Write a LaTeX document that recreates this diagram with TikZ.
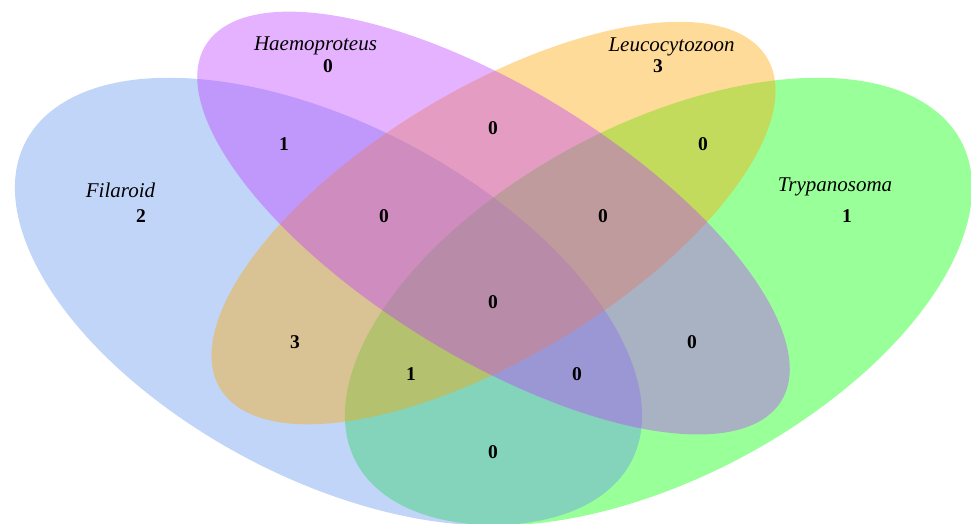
\documentclass[tikz,border=0pt]{standalone}
\usepackage{fontspec}
\setmainfont{Liberation Serif}
\definecolor{filcol}{RGB}{100,149,237}
\definecolor{haecol}{RGB}{191,62,255}
\definecolor{leucol}{RGB}{255,165,0}
\definecolor{trycol}{RGB}{0,255,0}
\tikzset{
  setfill/.style={fill=#1, fill opacity=0.4},
  setname/.style={font=\fontsize{21}{25}\selectfont\itshape, inner sep=0pt, anchor=base},
  count/.style={font=\fontsize{19.5}{23}\selectfont\bfseries, inner sep=0pt},
}
\begin{document}
\begin{tikzpicture}[x=1pt,y=1pt]
\useasboundingbox (0,0) rectangle (971,-524);
\clip (0,0) rectangle (971,-524);

% four ellipses on a unit square stretched to 1100 x 785
% Trypanosoma
\begin{scope}[shift={(658.5,-301.55)}, xscale=1100, yscale=785, rotate=45]
  \fill[setfill=trycol] (0,0) ellipse [x radius=0.35pt, y radius=0.2pt];
\end{scope}
% Filaroid
\begin{scope}[shift={(328.5,-301.55)}, xscale=1100, yscale=785, rotate=135]
  \fill[setfill=filcol] (0,0) ellipse [x radius=0.35pt, y radius=0.2pt];
\end{scope}
% Leucocytozoon
\begin{scope}[shift={(493.5,-223.05)}, xscale=1100, yscale=785, rotate=45]
  \fill[setfill=leucol] (0,0) ellipse [x radius=0.33pt, y radius=0.15pt];
\end{scope}
% Haemoproteus
\begin{scope}[shift={(493.5,-223.05)}, xscale=1100, yscale=785, rotate=135]
  \fill[setfill=haecol] (0,0) ellipse [x radius=0.35pt, y radius=0.15pt];
\end{scope}

% set names
\node[setname] (nHae) at (315.5,-51) {Haemoproteus};
\node[setname] (nLeu) at (671.5,-51.5) {Leucocytozoon};
\node[setname] (nFil) at (120.5,-197) {Filaroid};
\node[setname] (nTry) at (835,-191.5) {Trypanosoma};

% region counts
\node[count] (cF)    at (141,-216) {2};
\node[count] (cH)    at (328,-66) {0};
\node[count] (cL)    at (658,-66) {3};
\node[count] (cT)    at (847,-216) {1};
\node[count] (cFH)   at (284,-144) {1};
\node[count] (cHL)   at (493,-128) {0};
\node[count] (cLT)   at (703,-144) {0};
\node[count] (cFL)   at (295,-342) {3};
\node[count] (cHT)   at (692,-342) {0};
\node[count] (cFT)   at (493,-452) {0};
\node[count] (cFHL)  at (384,-216) {0};
\node[count] (cHLT)  at (603,-216) {0};
\node[count] (cFLT)  at (411,-374) {1};
\node[count] (cFHT)  at (577,-374) {0};
\node[count] (cFHLT) at (493,-302) {0};
\end{tikzpicture}
\end{document}
